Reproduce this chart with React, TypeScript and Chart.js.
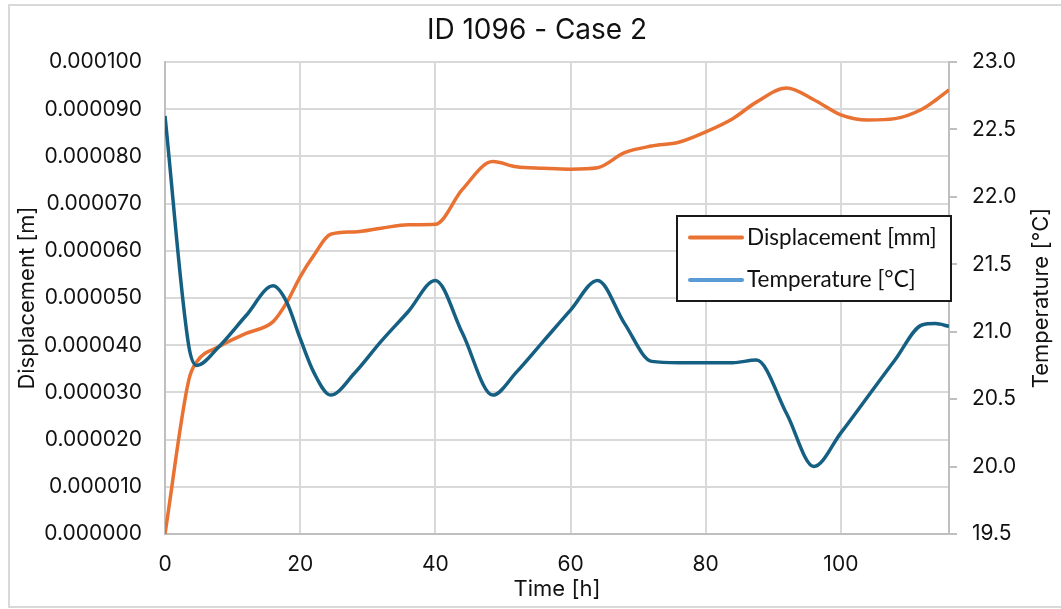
import { useEffect, useRef } from "react";
import { Chart, registerables } from "chart.js";

Chart.register(...registerables);

const chartTitle = "ID 1096 - Case 2";
const xAxisTitle = "Time [h]";
const leftAxisTitle = "Displacement [m]";
const rightAxisTitle = "Temperature [°C]";
const seriesLabels = ["Displacement [mm]", "Temperature [°C]"];

const timeHours = [
  0, 3.5, 4.7, 8, 12, 16, 18, 20, 22, 24.5,
  28, 32, 36, 40, 44, 48.5, 52, 56, 60, 64,
  68, 72, 76, 80, 84, 87.5, 92, 96, 100, 104,
  108, 112, 114, 116,
];

const displacementM = [
  0, 32.5e-6, 36.5e-6, 39.7e-6, 42.5e-6, 45.0e-6, 49.0e-6, 54.5e-6, 59.0e-6, 63.5e-6,
  64.0e-6, 64.8e-6, 65.5e-6, 65.6e-6, 73.0e-6, 78.9e-6, 77.8e-6, 77.5e-6, 77.3e-6, 77.6e-6,
  80.8e-6, 82.2e-6, 83.0e-6, 85.2e-6, 88.0e-6, 91.5e-6, 94.5e-6, 92.0e-6, 88.8e-6, 87.7e-6,
  88.0e-6, 90.0e-6, 91.9e-6, 94.1e-6,
];

const temperatureC = [
  22.6, 20.9, 20.75, 20.89, 21.12, 21.34, 21.22, 20.95, 20.7, 20.53,
  20.69, 20.93, 21.15, 21.38, 20.99, 20.53, 20.7, 20.93, 21.16, 21.38,
  21.06, 20.78, 20.77, 20.77, 20.77, 20.79, 20.39, 20.0, 20.25, 20.52,
  20.79, 21.05, 21.06, 21.04,
];

const xTickStep = 20;
const leftMin = 0;
const leftMax = 0.0001;
const leftStep = 0.00001;
const rightMin = 19.5;
const rightMax = 23.0;
const rightStep = 0.5;

const ORANGE = "#E97132";
const BLUE = "#156082";
const LEGEND_BLUE = "#5B9BD5";
const GRID = "#D9D9D9";
const AXIS = "#BFBFBF";
const TEXT = "#111111";
const FONT = "Inter";

const W = 1061;
const H = 609;

const framePlugin = {
  id: "frame",
  beforeDraw(chart: any) {
    const ctx = chart.ctx;
    ctx.save();
    ctx.fillStyle = "#ffffff";
    ctx.fillRect(0, 0, chart.width, chart.height);
    ctx.strokeStyle = GRID;
    ctx.lineWidth = 2;
    ctx.beginPath();
    ctx.moveTo(W, 5);
    ctx.lineTo(9, 5);
    ctx.lineTo(9, 607);
    ctx.lineTo(W, 607);
    ctx.stroke();
    ctx.restore();
  },
  afterDraw(chart: any) {
    const ctx = chart.ctx;
    const area = chart.chartArea;
    ctx.save();
    ctx.fillStyle = TEXT;
    ctx.font = `28px ${FONT}`;
    ctx.textAlign = "center";
    ctx.textBaseline = "middle";
    ctx.fillText(chartTitle, 537, 31);
    // right axis title, reading bottom-to-top
    ctx.translate(1041, (area.top + area.bottom) / 2);
    ctx.rotate(-Math.PI / 2);
    ctx.font = `22px ${FONT}`;
    ctx.fillText(rightAxisTitle, 0, 0);
    ctx.restore();
  },
};

const legendPlugin = {
  id: "boxLegend",
  afterDatasetsDraw(chart: any) {
    const ctx = chart.ctx;
    const colors = [ORANGE, LEGEND_BLUE];
    const box = { x: 677, y: 216, w: 274, h: 85 };
    ctx.save();
    ctx.fillStyle = "#ffffff";
    ctx.fillRect(box.x, box.y, box.w, box.h);
    ctx.strokeStyle = "#1a1a1a";
    ctx.lineWidth = 2;
    ctx.strokeRect(box.x, box.y, box.w, box.h);
    const rows = [237.5, 280];
    chart.data.datasets.forEach((ds: any, i: number) => {
      const y = rows[i];
      ctx.strokeStyle = colors[i];
      ctx.lineWidth = 4;
      ctx.lineCap = "round";
      ctx.beginPath();
      ctx.moveTo(690, y);
      ctx.lineTo(742, y);
      ctx.stroke();
      ctx.fillStyle = TEXT;
      ctx.font = `22.5px Lato`;
      ctx.textAlign = "left";
      ctx.textBaseline = "middle";
      ctx.fillText(ds.label, 747, y);
    });
    ctx.restore();
  },
};

export default function App() {
  const ref = useRef<HTMLCanvasElement | null>(null);

  useEffect(() => {
    if (!ref.current) return;
    const chart = new Chart(ref.current, {
      type: "line",
      data: {
        datasets: [
          {
            label: seriesLabels[0],
            data: timeHours.map((t, i) => ({ x: t, y: displacementM[i] })),
            borderColor: ORANGE,
            backgroundColor: ORANGE,
            borderWidth: 3.5,
            pointRadius: 0,
            cubicInterpolationMode: "monotone",
            yAxisID: "y",
            order: 1,
          },
          {
            label: seriesLabels[1],
            data: timeHours.map((t, i) => ({ x: t, y: temperatureC[i] })),
            borderColor: BLUE,
            backgroundColor: BLUE,
            borderWidth: 3.5,
            pointRadius: 0,
            cubicInterpolationMode: "monotone",
            yAxisID: "y1",
            order: 0,
          },
        ],
      },
      options: {
        responsive: false,
        animation: false,
        layout: { padding: { top: 62, left: 0, right: 0, bottom: 0 } },
        plugins: {
          legend: { display: false },
          title: { display: false },
          tooltip: { enabled: false },
        },
        scales: {
          x: {
            type: "linear",
            min: 0,
            max: timeHours[timeHours.length - 1],
            afterFit: (s: any) => {
              s.height = 75;
            },
            ticks: {
              stepSize: xTickStep,
              includeBounds: false,
              padding: 18,
              color: TEXT,
              font: { family: FONT, size: 21 },
              maxRotation: 0,
            },
            grid: { color: GRID, lineWidth: 2, drawTicks: false },
            border: { color: AXIS, width: 2 },
            title: {
              display: true,
              text: xAxisTitle,
              color: TEXT,
              font: { family: FONT, size: 22 },
              padding: { top: 0, bottom: 6 },
            },
          },
          y: {
            position: "left",
            min: leftMin,
            max: leftMax,
            afterFit: (s: any) => {
              s.width = 165;
            },
            ticks: {
              stepSize: leftStep,
              padding: 23,
              color: TEXT,
              font: { family: FONT, size: 21 },
              callback: (v: any) => Number(v).toFixed(6),
            },
            grid: { color: GRID, lineWidth: 2, drawTicks: false },
            border: { color: AXIS, width: 2 },
            title: {
              display: true,
              text: leftAxisTitle,
              color: TEXT,
              font: { family: FONT, size: 22 },
              padding: { top: 14, bottom: 0 },
            },
          },
          y1: {
            position: "right",
            min: rightMin,
            max: rightMax,
            afterFit: (s: any) => {
              s.width = W - 949;
            },
            ticks: {
              stepSize: rightStep,
              padding: 15,
              color: TEXT,
              font: { family: FONT, size: 21 },
              callback: (v: any) => Number(v).toFixed(1),
            },
            grid: {
              drawOnChartArea: false,
              drawTicks: true,
              tickLength: 8,
              color: AXIS,
              lineWidth: 2,
            },
            border: { color: AXIS, width: 2 },
            title: { display: false, text: rightAxisTitle },
          },
        },
      },
      plugins: [framePlugin, legendPlugin],
    } as any);
    return () => chart.destroy();
  }, []);

  return (
    <div style={{ position: "fixed", left: 0, top: 0, width: W, height: H }}>
      <canvas ref={ref} width={W} height={H} style={{ display: "block" }} />
    </div>
  );
}
